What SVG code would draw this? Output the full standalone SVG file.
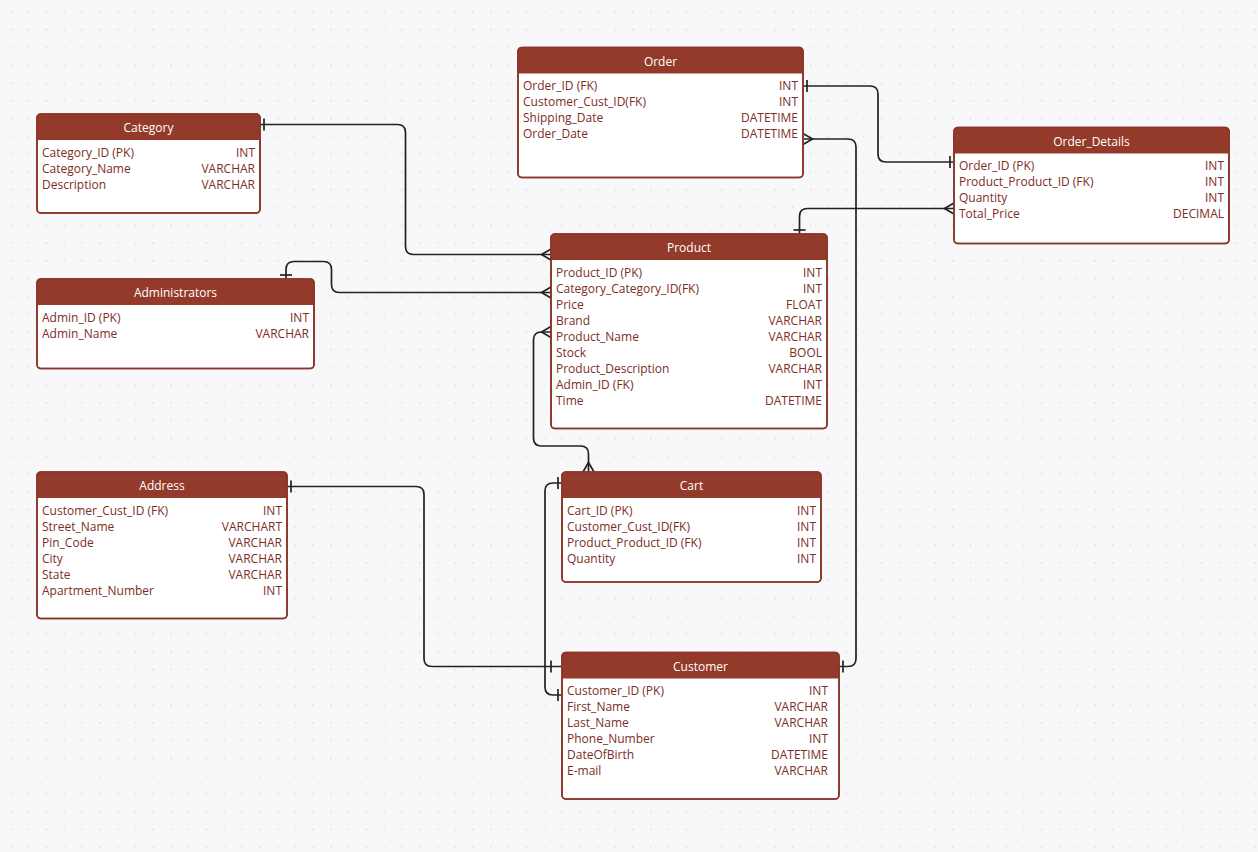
<svg xmlns="http://www.w3.org/2000/svg" width="1258" height="852" viewBox="0 0 1258 852">
<style>
.box{fill:#ffffff;stroke:#8a3528;stroke-width:1.6}
.frame{fill:none;stroke:#8a3528;stroke-width:1.6}
.hd{fill:#943a2b}
.title{font-family:"Open Sans","Noto Sans",sans-serif;font-size:12px;fill:#ffffff;text-anchor:middle}
.f{font-family:"Open Sans","Noto Sans",sans-serif;font-size:12px;fill:#7c2e25}
.t{font-family:"Open Sans","Noto Sans",sans-serif;font-size:12px;fill:#7c2e25;text-anchor:end}
.conn{fill:none;stroke:#222222;stroke-width:1.7}
.mk{fill:none;stroke:#222222;stroke-width:1.7}
</style>
<defs>
<pattern id="dots" patternUnits="userSpaceOnUse" x="10.2" y="11.2" width="17.77" height="17.77">
<rect x="0" y="0" width="1.6" height="1.6" fill="#dfdfe4"/>
</pattern>
<marker id="one" markerUnits="userSpaceOnUse" viewBox="0 0 14 14" markerWidth="14" markerHeight="14" refX="14" refY="7" orient="auto-start-reverse">
<path class="mk" d="M10,1 V13"/>
</marker>
<marker id="oneFar" markerUnits="userSpaceOnUse" viewBox="0 0 14 14" markerWidth="14" markerHeight="14" refX="14" refY="7" orient="auto-start-reverse">
<path class="mk" d="M3,1 V13"/>
</marker>
<marker id="many" markerUnits="userSpaceOnUse" viewBox="0 0 14 14" markerWidth="14" markerHeight="14" refX="14" refY="7" orient="auto-start-reverse">
<path class="mk" d="M14,1.5 L4.5,7 L14,12.5"/>
</marker>
</defs>
<rect x="0" y="0" width="1258" height="852" fill="#f8f8fa"/>
<rect x="0" y="0" width="1258" height="852" fill="url(#dots)"/>

<g id="connectors">
<path class="conn" d="M803,86 H870 Q878,86 878,94 V154 Q878,162 886,162 H954" marker-start="url(#one)" marker-end="url(#one)"/>
<path class="conn" d="M803,139 H848 Q856,139 856,147 V658.5 Q856,666.5 848,666.5 H839" marker-start="url(#many)" marker-end="url(#one)"/>
<path class="conn" d="M954,208.5 H807.5 Q799.5,208.5 799.5,216.5 V234" marker-start="url(#many)" marker-end="url(#one)"/>
<path class="conn" d="M260,124.5 H397.5 Q405.5,124.5 405.5,132.5 V246.5 Q405.5,254.5 413.5,254.5 H551" marker-start="url(#one)" marker-end="url(#many)"/>
<path class="conn" d="M286,279 V269.5 Q286,261.5 294,261.5 H323.5 Q331.5,261.5 331.5,269.5 V284.5 Q331.5,292.5 339.5,292.5 H551" marker-start="url(#one)" marker-end="url(#many)"/>
<path class="conn" d="M551,332 H541.5 Q533.5,332 533.5,340 V438 Q533.5,446 541.5,446 H580.5 Q588.5,446 588.5,454 V472" marker-start="url(#many)" marker-end="url(#many)"/>
<path class="conn" d="M562,483 H553 Q545,483 545,491 V687 Q545,695 553,695 H562" marker-start="url(#one)" marker-end="url(#one)"/>
<path class="conn" d="M287,486.5 H416 Q424,486.5 424,494.5 V658.5 Q424,666.5 432,666.5 H562" marker-start="url(#one)" marker-end="url(#oneFar)"/>
</g>

<g id="order">
<rect class="box" x="518" y="47.5" width="285" height="130" rx="4"/>
<path class="hd" d="M518,73.5 V51.5 Q518,47.5 522,47.5 H799 Q803,47.5 803,51.5 V73.5 Z"/>
<rect class="frame" x="518" y="47.5" width="285" height="130" rx="4"/>
<text class="title" x="660.5" y="65.5">Order</text>
<text class="f" x="523" y="90">Order_ID (FK)</text><text class="t" x="798" y="90">INT</text>
<text class="f" x="523" y="106">Customer_Cust_ID(FK)</text><text class="t" x="798" y="106">INT</text>
<text class="f" x="523" y="122">Shipping_Date</text><text class="t" x="798" y="122">DATETIME</text>
<text class="f" x="523" y="138">Order_Date</text><text class="t" x="798" y="138">DATETIME</text>
</g>

<g id="order_details">
<rect class="box" x="954" y="127.5" width="275" height="116" rx="4"/>
<path class="hd" d="M954,153.5 V131.5 Q954,127.5 958,127.5 H1225 Q1229,127.5 1229,131.5 V153.5 Z"/>
<rect class="frame" x="954" y="127.5" width="275" height="116" rx="4"/>
<text class="title" x="1091.5" y="145.5">Order_Details</text>
<text class="f" x="959" y="170">Order_ID (PK)</text><text class="t" x="1224" y="170">INT</text>
<text class="f" x="959" y="186">Product_Product_ID (FK)</text><text class="t" x="1224" y="186">INT</text>
<text class="f" x="959" y="202">Quantity</text><text class="t" x="1224" y="202">INT</text>
<text class="f" x="959" y="218">Total_Price</text><text class="t" x="1224" y="218">DECIMAL</text>
</g>

<g id="category">
<rect class="box" x="37" y="114" width="223" height="99" rx="4"/>
<path class="hd" d="M37,140 V118 Q37,114 41,114 H256 Q260,114 260,118 V140 Z"/>
<rect class="frame" x="37" y="114" width="223" height="99" rx="4"/>
<text class="title" x="148.5" y="132">Category</text>
<text class="f" x="42" y="156.5">Category_ID (PK)</text><text class="t" x="255" y="156.5">INT</text>
<text class="f" x="42" y="172.5">Category_Name</text><text class="t" x="255" y="172.5">VARCHAR</text>
<text class="f" x="42" y="188.5">Description</text><text class="t" x="255" y="188.5">VARCHAR</text>
</g>

<g id="product">
<rect class="box" x="551" y="234" width="276" height="194.5" rx="4"/>
<path class="hd" d="M551,260 V238 Q551,234 555,234 H823 Q827,234 827,238 V260 Z"/>
<rect class="frame" x="551" y="234" width="276" height="194.5" rx="4"/>
<text class="title" x="689" y="252">Product</text>
<text class="f" x="556" y="276.5">Product_ID (PK)</text><text class="t" x="822" y="276.5">INT</text>
<text class="f" x="556" y="292.5">Category_Category_ID(FK)</text><text class="t" x="822" y="292.5">INT</text>
<text class="f" x="556" y="308.5">Price</text><text class="t" x="822" y="308.5">FLOAT</text>
<text class="f" x="556" y="324.5">Brand</text><text class="t" x="822" y="324.5">VARCHAR</text>
<text class="f" x="556" y="340.5">Product_Name</text><text class="t" x="822" y="340.5">VARCHAR</text>
<text class="f" x="556" y="356.5">Stock</text><text class="t" x="822" y="356.5">BOOL</text>
<text class="f" x="556" y="372.5">Product_Description</text><text class="t" x="822" y="372.5">VARCHAR</text>
<text class="f" x="556" y="388.5">Admin_ID (FK)</text><text class="t" x="822" y="388.5">INT</text>
<text class="f" x="556" y="404.5">Time</text><text class="t" x="822" y="404.5">DATETIME</text>
</g>

<g id="administrators">
<rect class="box" x="37" y="279" width="277" height="89.5" rx="4"/>
<path class="hd" d="M37,305 V283 Q37,279 41,279 H310 Q314,279 314,283 V305 Z"/>
<rect class="frame" x="37" y="279" width="277" height="89.5" rx="4"/>
<text class="title" x="175.5" y="297">Administrators</text>
<text class="f" x="42" y="321.5">Admin_ID (PK)</text><text class="t" x="309" y="321.5">INT</text>
<text class="f" x="42" y="337.5">Admin_Name</text><text class="t" x="309" y="337.5">VARCHAR</text>
</g>

<g id="address">
<rect class="box" x="37" y="472" width="250" height="146.5" rx="4"/>
<path class="hd" d="M37,498 V476 Q37,472 41,472 H283 Q287,472 287,476 V498 Z"/>
<rect class="frame" x="37" y="472" width="250" height="146.5" rx="4"/>
<text class="title" x="162" y="490">Address</text>
<text class="f" x="42" y="514.5">Customer_Cust_ID (FK)</text><text class="t" x="282" y="514.5">INT</text>
<text class="f" x="42" y="530.5">Street_Name</text><text class="t" x="282" y="530.5">VARCHART</text>
<text class="f" x="42" y="546.5">Pin_Code</text><text class="t" x="282" y="546.5">VARCHAR</text>
<text class="f" x="42" y="562.5">City</text><text class="t" x="282" y="562.5">VARCHAR</text>
<text class="f" x="42" y="578.5">State</text><text class="t" x="282" y="578.5">VARCHAR</text>
<text class="f" x="42" y="594.5">Apartment_Number</text><text class="t" x="282" y="594.5">INT</text>
</g>

<g id="cart">
<rect class="box" x="562" y="472" width="259" height="110" rx="4"/>
<path class="hd" d="M562,498 V476 Q562,472 566,472 H817 Q821,472 821,476 V498 Z"/>
<rect class="frame" x="562" y="472" width="259" height="110" rx="4"/>
<text class="title" x="691.5" y="490">Cart</text>
<text class="f" x="567" y="514.5">Cart_ID (PK)</text><text class="t" x="816" y="514.5">INT</text>
<text class="f" x="567" y="530.5">Customer_Cust_ID(FK)</text><text class="t" x="816" y="530.5">INT</text>
<text class="f" x="567" y="546.5">Product_Product_ID (FK)</text><text class="t" x="816" y="546.5">INT</text>
<text class="f" x="567" y="562.5">Quantity</text><text class="t" x="816" y="562.5">INT</text>
</g>

<g id="customer">
<rect class="box" x="562" y="652.5" width="277" height="146.5" rx="4"/>
<path class="hd" d="M562,678.5 V656.5 Q562,652.5 566,652.5 H835 Q839,652.5 839,656.5 V678.5 Z"/>
<rect class="frame" x="562" y="652.5" width="277" height="146.5" rx="4"/>
<text class="title" x="700.5" y="670.5">Customer</text>
<text class="f" x="567" y="695">Customer_ID (PK)</text><text class="t" x="828" y="695">INT</text>
<text class="f" x="567" y="711">First_Name</text><text class="t" x="828" y="711">VARCHAR</text>
<text class="f" x="567" y="727">Last_Name</text><text class="t" x="828" y="727">VARCHAR</text>
<text class="f" x="567" y="743">Phone_Number</text><text class="t" x="828" y="743">INT</text>
<text class="f" x="567" y="759">DateOfBirth</text><text class="t" x="828" y="759">DATETIME</text>
<text class="f" x="567" y="775">E-mail</text><text class="t" x="828" y="775">VARCHAR</text>
</g>
</svg>
